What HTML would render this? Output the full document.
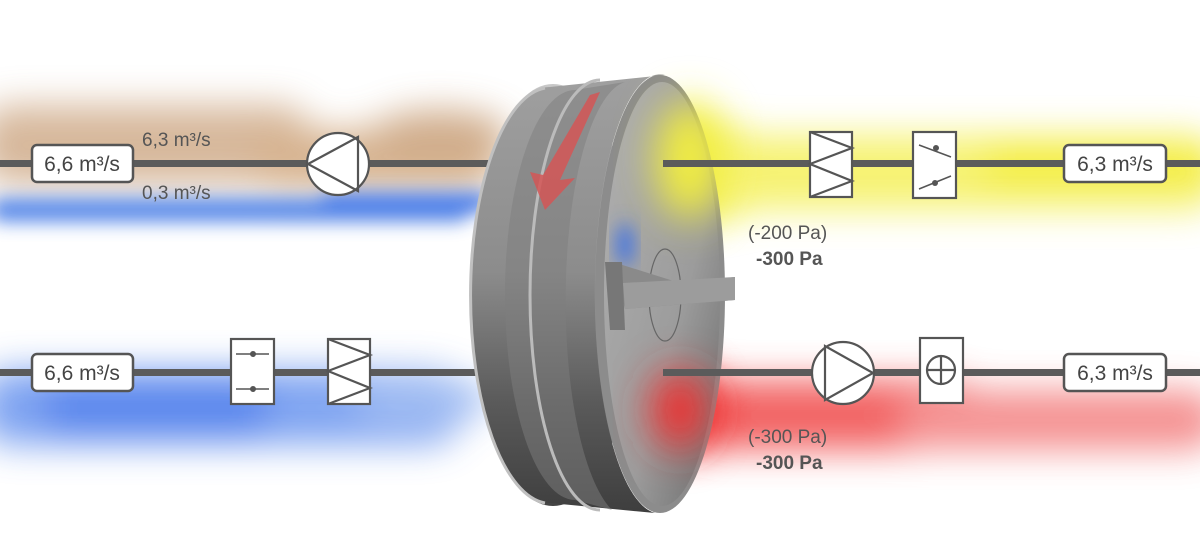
<!DOCTYPE html>
<html><head><meta charset="utf-8"><style>
html,body{margin:0;padding:0;background:#fff;}
svg{display:block;}
text{font-family:"Liberation Sans",sans-serif;}
</style></head><body>
<svg width="1200" height="541" viewBox="0 0 1200 541" xmlns="http://www.w3.org/2000/svg">
<defs>
<filter id="b1" x="-50%" y="-100%" width="200%" height="300%"><feGaussianBlur stdDeviation="18"/></filter>
<filter id="b2" x="-50%" y="-100%" width="200%" height="300%"><feGaussianBlur stdDeviation="9"/></filter>
<filter id="b3" x="-50%" y="-50%" width="200%" height="200%"><feGaussianBlur stdDeviation="20"/></filter>
<linearGradient id="band" x1="0" y1="0" x2="0" y2="1">
<stop offset="0" stop-color="#a0a0a0"/><stop offset="0.45" stop-color="#8c8c8c"/><stop offset="0.75" stop-color="#5a5a5a"/><stop offset="1" stop-color="#3e3e3e"/></linearGradient>
<linearGradient id="face" x1="0" y1="0" x2="1" y2="1">
<stop offset="0" stop-color="#b0b0b0"/><stop offset="0.6" stop-color="#9c9c9c"/><stop offset="1" stop-color="#6a6a6a"/></linearGradient>
<linearGradient id="rim" x1="0" y1="0" x2="0" y2="1">
<stop offset="0" stop-color="#c8c8c8"/><stop offset="0.6" stop-color="#8a8a8a"/><stop offset="1" stop-color="#444"/></linearGradient>
</defs>
<!-- clouds -->
<g filter="url(#b1)" opacity="0.75">
<rect x="-20" y="105" width="330" height="80" rx="30" fill="#c9a07a"/>
<rect x="250" y="130" width="250" height="60" rx="30" fill="#c99a6a"/>
<ellipse cx="440" cy="135" rx="70" ry="25" fill="#c09064"/>
</g>
<g filter="url(#b2)" opacity="0.9">
<rect x="-10" y="198" width="480" height="24" rx="12" fill="#4a7fe8"/>
<rect x="320" y="192" width="170" height="20" rx="10" fill="#3d74ea"/>
</g>
<g filter="url(#b1)" opacity="0.85">
<rect x="640" y="125" width="120" height="95" rx="40" fill="#f0ee30"/>
<rect x="700" y="135" width="520" height="75" rx="30" fill="#f4f05a"/>
<rect x="980" y="145" width="240" height="40" rx="20" fill="#f2ea10"/>
</g>
<g filter="url(#b1)" opacity="0.85">
<rect x="-20" y="370" width="480" height="75" rx="30" fill="#6a95ef"/>
<rect x="40" y="380" width="230" height="55" rx="25" fill="#3c72ea"/>
<ellipse cx="420" cy="400" rx="70" ry="25" fill="#8fb0f0"/>
</g>
<g filter="url(#b1)" opacity="0.85">
<rect x="650" y="380" width="330" height="70" rx="30" fill="#f04848"/>
<rect x="900" y="390" width="320" height="60" rx="30" fill="#f37f7f"/>
<ellipse cx="690" cy="410" rx="40" ry="40" fill="#ee2222"/>
</g>
<!-- lines -->
<rect x="0" y="160" width="500" height="7" fill="#5b5b5b"/>
<rect x="0" y="369" width="495" height="7" fill="#5b5b5b"/>
<!-- wheel -->
<ellipse cx="553" cy="295" rx="83" ry="211" fill="url(#rim)"/>
<path d="M550,87 L665,75 A65,219 0 0,0 655,513 L550,503 A80,208 0 0,1 550,87 Z" fill="url(#band)"/>
<path d="M575,90 L625,82 A65,219 0 0,0 612,510 L575,500 A70,205 0 0,1 575,90 Z" fill="#7d7d7d" opacity="0.5"/>
<path d="M545,88 A80,208 0 0,0 545,503" fill="none" stroke="#c0c0c0" stroke-width="3"/>
<path d="M600,80 A70,215 0 0,0 600,510" fill="none" stroke="#bbb" stroke-width="3"/>
<path d="M590,95 L600,92 L560,180 L575,178 L545,210 L530,172 L543,175 Z" fill="#d45656" opacity="0.85"/>
<ellipse cx="660" cy="294" rx="65" ry="219" fill="#8c8c8c"/>
<ellipse cx="662" cy="294" rx="58" ry="212" fill="url(#face)"/>
<g filter="url(#b3)">
<ellipse cx="690" cy="160" rx="35" ry="60" fill="#f2ee40"/>
<ellipse cx="680" cy="410" rx="30" ry="40" fill="#ee3030"/>
</g>
<ellipse cx="625" cy="245" rx="8" ry="22" fill="#3a6fe6" filter="url(#b2)"/>
<ellipse cx="665" cy="295" rx="16" ry="46" fill="none" stroke="#666" stroke-width="1.2"/>
<path d="M613,262 L680,283 L735,277 L735,300 L625,309 Z" fill="#8a8a8a"/>
<path d="M623,283 L735,277 L735,300 L625,309 Z" fill="#9c9c9c"/>
<path d="M605,262 L622,262 L625,330 L610,330 Z" fill="#777"/>
<!-- right lines -->
<rect x="663" y="160" width="537" height="7" fill="#5b5b5b"/>
<rect x="663" y="369" width="537" height="7" fill="#5b5b5b"/>
<!-- boxes -->
<g font-size="21" fill="#444">
<rect x="32" y="145" width="101" height="37" rx="5" fill="#fff" stroke="#555" stroke-width="2.5"/>
<text x="82" y="171" text-anchor="middle">6,6 m³/s</text>
<rect x="32" y="354" width="101" height="37" rx="5" fill="#fff" stroke="#555" stroke-width="2.5"/>
<text x="82" y="380" text-anchor="middle">6,6 m³/s</text>
<rect x="1064" y="145" width="102" height="37" rx="5" fill="#fff" stroke="#555" stroke-width="2.5"/>
<text x="1115" y="171" text-anchor="middle">6,3 m³/s</text>
<rect x="1064" y="354" width="102" height="37" rx="5" fill="#fff" stroke="#555" stroke-width="2.5"/>
<text x="1115" y="380" text-anchor="middle">6,3 m³/s</text>
</g>
<g font-size="19" fill="#555">
<text x="142" y="146">6,3 m³/s</text>
<text x="142" y="199">0,3 m³/s</text>
<text x="748" y="239">(-200 Pa)</text>
<text x="756" y="265" font-weight="bold">-300 Pa</text>
<text x="748" y="443">(-300 Pa)</text>
<text x="756" y="469" font-weight="bold">-300 Pa</text>
</g>
<!-- symbols -->
<g stroke="#555" stroke-width="2.2" fill="#fff">
<circle cx="338" cy="164" r="31"/>
<path d="M308,164 L358,137 L358,191 Z" fill="none"/>
<circle cx="843" cy="373" r="31"/>
<path d="M873,373 L825,346 L825,400 Z" fill="none"/>
<rect x="810" y="132" width="42" height="65"/>
<path d="M810,132 L852,148 L810,164 L852,181 L810,197" fill="none"/>
<rect x="328" y="339" width="42" height="65"/>
<path d="M328,339 L370,355 L328,371 L370,388 L328,404" fill="none"/>
<rect x="913" y="132" width="43" height="66"/>
<path d="M919,145 L951,157 M919,189 L951,176" fill="none" stroke-width="1.5"/>
<rect x="231" y="339" width="43" height="65"/>
<path d="M236,354 L269,354 M236,389 L269,389" fill="none" stroke-width="1.5"/>
<rect x="920" y="338" width="43" height="65"/>
<circle cx="941" cy="370" r="14"/>
<path d="M927,370 L955,370 M941,356 L941,384" fill="none"/>
</g>
<g fill="#555">
<circle cx="936" cy="148" r="3"/><circle cx="935" cy="183" r="3"/>
<circle cx="253" cy="354" r="3"/><circle cx="253" cy="389" r="3"/>
</g>
</svg>
</body></html>
